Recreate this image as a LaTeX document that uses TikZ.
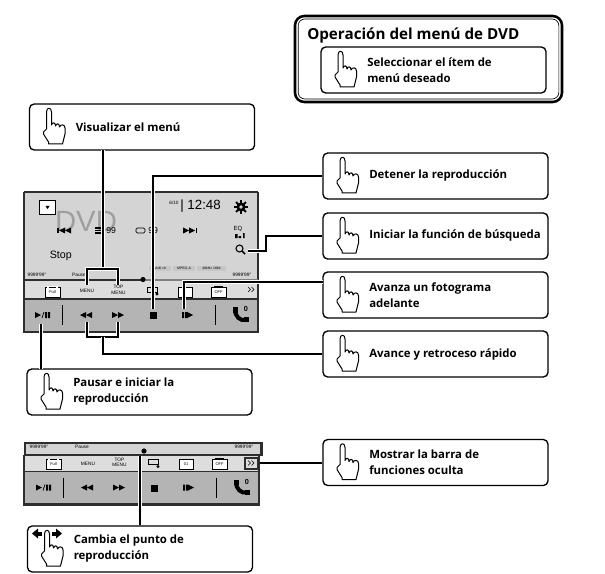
\documentclass[tikz,border=0pt]{standalone}
\usepackage{fontspec}
\usepackage{tikz}
\usetikzlibrary{calc}
\setmainfont{Open Sans}
\newfontfamily\panelfont{Liberation Sans}
\definecolor{screentop}{HTML}{D4D4D4}
\definecolor{screenrow}{HTML}{DDDDDD}
\definecolor{screenlow}{HTML}{B4B4B4}
\definecolor{screenline}{HTML}{2E2E2E}
\tikzset{
  calloutbox/.style={draw, line width=1pt, rounded corners=3.5pt, fill=white, minimum width=168.75pt, minimum height=34.5pt, inner sep=0pt},
  callouttext/.style={anchor=west, align=left, inner sep=0pt, font=\fontsize{8.55pt}{12pt}\selectfont\bfseries},
  wire/.style={line width=1.15pt, black, preaction={draw, white, line width=2.8pt}},
  panellabel/.style={inner sep=0pt, font=\panelfont\fontsize{3.6pt}{4pt}\selectfont},
  smallbtn/.style={draw, line width=0.5pt, fill=white, minimum width=11pt, minimum height=7.5pt, inner sep=0pt},
  handicon/.pic={
    \draw[line width=0.75pt, fill=white, line join=round]
      (17,25) -- (17,8) .. controls (17,3) and (22,3) .. (22,8) -- (22,21)
      .. controls (23,18) and (26,18) .. (26,22) .. controls (27,19) and (30,19) .. (30,23)
      .. controls (31,20) and (35.5,20) .. (35.5,24) -- (35.5,30) -- (33,40) -- (19,40) -- (19,38)
      -- (14,30) -- (14,28) -- cycle;
  }
}
% one callout: name, centre x, centre y, text
\newcommand\callout[4]{
  \node[calloutbox] (#1) at (#2,#3) {};
  \pic at ($(#2,#3)+(-112.5,-23)$) {handicon};
  \node[callouttext] (#1text) at ($(#2,#3)+(-66.5,0)$) {#4};
}
\newcommand\triright[2]{\fill (#1,#2-3) -- (#1+6,#2) -- (#1,#2+3) -- cycle;}
\newcommand\trileft[2]{\fill (#1,#2-3) -- (#1-6,#2) -- (#1,#2+3) -- cycle;}
% the two lower rows of the screen
\newcommand\panelrows[1]{
  \node[smallbtn] (fullbtn) at (52.5,292) {\panelfont\fontsize{3pt}{3pt}\selectfont Full};
  \fill[white] (47,286) rectangle (58,288);
  \draw[line width=0.3pt] (49,287) -- (56,287);
  \node[panellabel] (menulabel) at (87,291) {MENU};
  \node[panellabel, align=center] (toplabel) at (118.5,290) {TOP\\MENU};
  \draw[line width=0.6pt] (147,287) rectangle (157,292);
  \fill (157,294) circle [radius=1.6];
  \node[smallbtn, minimum width=10.5pt] (modebtn) at (185,292) {\panelfont\fontsize{3pt}{3pt}\selectfont #1};
  \node[smallbtn] (offbtn) at (218.5,292) {\panelfont\fontsize{3pt}{3pt}\selectfont OFF};
  \draw[line width=0.4pt] (214,286) -- (223,286);
  \draw[line width=0.5pt] (248,287) -- (250.5,289.5) -- (248,292) (251.5,287) -- (254,289.5) -- (251.5,292);
  \draw[screenline, line width=1.4pt] (24,299) -- (258,299);
  \triright{35}{315}
  \draw[line width=0.5pt] (42,318) -- (44,312);
  \fill (45,312) rectangle (47,318) (48,312) rectangle (50,318);
  \draw[line width=0.7pt] (62,305) -- (62,325);
  \trileft{86}{315} \trileft{92}{315}
  \triright{112}{315} \triright{118}{315}
  \fill (150,312) rectangle (157,319);
  \fill (182,312) rectangle (184,318) (185,312) rectangle (187,318);
  \triright{187}{315}
  \draw[line width=0.7pt] (215,305) -- (215,325);
  \draw[line width=3pt] (235,309) .. controls (235,317) and (240,321) .. (246,320);
  \fill (232.5,307) rectangle (238,312.5);
  \fill (243.5,317) rectangle (249,322);
  \node[inner sep=0pt, font=\panelfont\bfseries\fontsize{5.5pt}{5.5pt}\selectfont] (btlabel) at (246,309) {0};
}
\begin{document}
\begin{tikzpicture}[x=0.75pt, y=-0.75pt]
  \useasboundingbox (0,0) rectangle (605,573);

  % heading box
  \node[draw, line width=1.9pt, rounded corners=7pt, minimum width=200.25pt, minimum height=64.5pt, inner sep=0pt] (headbox) at (428.5,59) {};
  \node[draw, line width=0.5pt, rounded corners=5pt, minimum width=195.5pt, minimum height=60pt, inner sep=0pt] (headinner) at (428.5,59) {};
  \node[anchor=base west, inner sep=0pt, font=\fontsize{11.4pt}{12pt}\selectfont\bfseries] (headtext) at (307,40) {Operación del menú de DVD};
  \node[calloutbox] (seleccionar) at (433.5,70) {};
  \pic at (321,47) {handicon};
  \node[callouttext] (seleccionartext) at (367,70) {Seleccionar el ítem de\\menú deseado};

  % first screen
  \fill[screentop] (24,192) rectangle (258,281);
  \fill[screenrow] (24,281) rectangle (258,299);
  \fill[screenlow] (24,299) rectangle (258,331);
  \draw[screenline, line width=1.2pt] (24,192) -- (24,332);
  \draw[screenline, line width=1.2pt] (258,192) -- (258,332);
  \draw[screenline, line width=1.2pt] (24,192) -- (258,192);
  \draw[screenline, line width=2.2pt] (23,332) -- (259,332);
  \node[draw, line width=0.6pt, fill=white, minimum width=12.5pt, minimum height=11pt, inner sep=0pt] (listbtn) at (47.5,207.5) {};
  \fill (45.5,206) -- (49.5,206) -- (47.5,209) -- cycle;
  \node[inner sep=0pt, text=gray!75, font=\panelfont\fontsize{22pt}{22pt}\selectfont] (dvdlabel) at (86,221) {DVD};
  \node[inner sep=0pt, font=\panelfont\fontsize{3.5pt}{4pt}\selectfont] (tracklabel) at (174,203) {6/10};
  \node[anchor=west, inner sep=0pt, font=\panelfont\fontsize{10pt}{10pt}\selectfont] (timelabel) at (180,206) {| 12:48};
  \fill (241,207) circle [radius=4.5];
  \foreach \ang in {0,45,...,315} {
    \draw[line width=1.5pt] (241,207) -- ++(\ang:7);
  }
  \fill[screentop] (241,207) circle [radius=1.8];
  \fill (57,228) rectangle (58.5,233);
  \trileft{65}{230.5} \trileft{71}{230.5}
  \draw[line width=0.8pt] (95,228) -- (101,228) (95,230.5) -- (101,230.5) (95,233) -- (101,233);
  \node[anchor=west, inner sep=0pt, font=\panelfont\fontsize{6.5pt}{7pt}\selectfont] (chapterlabel) at (106,230.5) {99};
  \draw[line width=0.5pt, rounded corners=1pt] (136,228) rectangle (145,233);
  \node[anchor=west, inner sep=0pt, font=\panelfont\fontsize{6.5pt}{7pt}\selectfont] (titlelabel) at (148,230.5) {99};
  \triright{183}{230.5} \triright{189}{230.5}
  \fill (195.5,228) rectangle (197,233);
  \node[inner sep=0pt, font=\panelfont\fontsize{4.5pt}{5pt}\selectfont] (eqlabel) at (238,229) {EQ};
  \fill (235,234) rectangle (237.5,238) (238.5,236) rectangle (241,238) (243,233) rectangle (244.5,238);
  \draw[line width=0.8pt] (239.5,248.5) circle [radius=3.5];
  \draw[line width=1.1pt] (242,251) -- (245,254);
  \node[anchor=west, inner sep=0pt, font=\panelfont\fontsize{8pt}{8pt}\selectfont] (stoplabel) at (49.5,256) {Stop};
  \foreach \px/\pw/\ptext in {149/22/Multi ch,173/22/MPEG-A,197/29/48kHz 16bit} {
    \fill[gray!45] (\px,266) rectangle ++(\pw,4.5);
    \node[panellabel, font=\panelfont\fontsize{2.6pt}{3pt}\selectfont] at ($(\px,268.2)+(\pw/2,0)$) {\ptext};
  }
  \node[panellabel] (timeleft) at (37,275) {9999'99''};
  \node[panellabel] (pauselabel) at (79,275) {Pause};
  \node[panellabel] (timeright) at (242,275) {9999'99''};
  \draw[screenline, line width=1.5pt] (24,280) -- (143,280);
  \draw[gray, line width=1.2pt] (143,280) -- (258,280);
  \fill (143,279.5) circle [radius=2.6];
  \panelrows{}

  % second screen
  \begin{scope}[shift={(1,172.5)}]
    \fill[screenrow] (23,282) rectangle (258,299);
    \fill[screenlow] (23,299) rectangle (258,331);
    \draw[screenline, line width=1.2pt] (23,282) -- (23,332);
    \draw[screenline, line width=1.2pt] (258,282) -- (258,332);
    \draw[screenline, line width=2.2pt] (22,332) -- (259,332);
    \panelrows{01}
  \end{scope}
  \fill[screenline] (24,441.5) rectangle (263,455.5);
  \node[fill=screentop, minimum width=175pt, minimum height=7.5pt, inner sep=0pt] (seekbar) at (143,448.5) {};
  \node[panellabel] (seekleft) at (39,447) {9999'99''};
  \node[panellabel] (seekpause) at (82,447) {Pause};
  \node[panellabel] (seekright) at (244,447) {9999'99''};
  \fill (144,451) circle [radius=2.6];
  \fill[screenline] (244,457) rectangle (259.5,469.5);
  \node[fill=screenrow, minimum width=8.5pt, minimum height=6.5pt, inner sep=0pt] (morebtn) at (251.75,463.25) {};
  \draw[line width=0.5pt] (248,460.5) -- (250.5,463) -- (248,465.5) (251.5,460.5) -- (254,463) -- (251.5,465.5);

  % callouts
  \callout{visualizar}{142}{127}{Visualizar el menú}
  \callout{detener}{435.5}{176}{Detener la reproducción}
  \callout{iniciar}{435.5}{236}{Iniciar la función de búsqueda}
  \callout{avanza}{435.5}{295}{Avanza un fotograma\\adelante}
  \callout{avance}{435.5}{354}{Avance y retroceso rápido}
  \callout{pausar}{139.5}{392}{Pausar e iniciar la\\reproducción}
  \callout{mostrar}{435.5}{462.5}{Mostrar la barra de\\funciones oculta}
  \callout{cambia}{140}{549}{Cambia el punto de\\reproducción}
  \fill (32,533.5) -- (38,528.5) -- (38,538.5) -- cycle;
  \fill (38,531.5) rectangle (42,535.5);
  \fill (62,533.5) -- (56,528.5) -- (56,538.5) -- cycle;
  \fill (52,531.5) rectangle (56,535.5);

  % connectors
  \coordinate (visualdrop) at (103,150);
  \coordinate (menubracket) at (103,269);
  \coordinate (menutip) at (87,285);
  \coordinate (toptip) at (118,285);
  \coordinate (stoptip) at (153,309);
  \coordinate (searchtip) at (248,251);
  \coordinate (searchbend) at (266,251);
  \coordinate (stepstart) at (323,282);
  \coordinate (steptip) at (184,309);
  \coordinate (rewtip) at (87,322);
  \coordinate (fwdtip) at (118,322);
  \coordinate (seekbracket) at (103,337);
  \coordinate (playtip) at (41,324);
  \coordinate (playdrop) at (41,369);
  \coordinate (seekdrop) at (140,455.5);
  \coordinate (moreend) at (259.5,463);
  \draw[wire] (visualdrop) -- (menubracket);
  \draw[wire] (menutip) |- (menubracket) -| (toptip);
  \draw[wire] (detener.west) -| (stoptip);
  \draw[wire] (iniciar.west) -| (searchbend) -- (searchtip);
  \draw[wire] (stepstart) -| (steptip);
  \draw[wire] (rewtip) |- (seekbracket) -| (fwdtip);
  \draw[wire] (avance.west) -| (seekbracket);
  \draw[wire] (playdrop) -- (playtip);
  \draw[wire] (moreend) -- (mostrar.west |- moreend);
  \draw[wire] (seekdrop) -- (cambia.north);
\end{tikzpicture}
\end{document}
